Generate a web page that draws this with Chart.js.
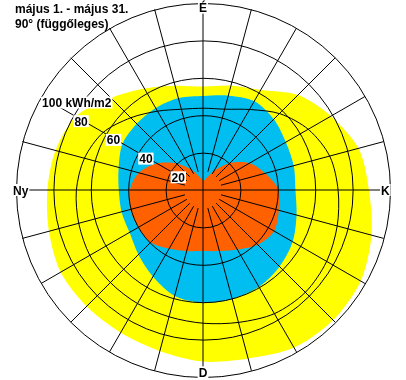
<!DOCTYPE html>
<html>
<head>
<meta charset="utf-8">
<script src="https://cdn.jsdelivr.net/npm/chart.js@4"></script>
<style>
  html, body { margin: 0; padding: 0; background: #fff; }
  #chart { display: block; }
</style>
</head>
<body>
<canvas id="chart" width="406" height="380"></canvas>
<script>
// ---- data (azimuth every 15°, clockwise from north) ----
const directions = ['É', '', '', '', '', '', 'K', '', '', '', '', '', 'D', '', '', '', '', '', 'Ny', '', '', '', '', ''];
const yellowValues  = [55.6, 58, 62, 72, 79, 86, 88.5, 93, 97, 98, 97, 93, 91.5, 89, 88, 88, 88, 85.5, 83.5, 82, 79, 70, 63, 58];
const blueValues    = [50.6, 52.5, 55, 53.5, 51, 50, 49.2, 51.5, 55, 57.5, 59.5, 60, 60, 58.5, 53.5, 49, 45.5, 45.3, 45.3, 47, 50, 50.5, 51, 51.2];
const orangeValues  = [5.3, 7.3, 12.8, 21, 29, 34.5, 40.3, 41.7, 43.5, 41, 36.5, 33.5, 32.4, 33.5, 36, 39.5, 40, 40.5, 39.4, 36, 29, 20.5, 12.8, 7.3];
const contourValues = [44, 45, 50, 58, 65, 70, 72, 74, 76, 77, 76, 73, 71, 70, 70, 70, 70, 69, 68, 66, 62, 55, 49, 45];
const tickValues = [20, 40, 60, 80, 100];
const tickLabels = ['20', '40', '60', '80', '100 kWh/m2'];
const titleLines = ['május 1. - május 31.', '90° (függőleges)'];

const labelFont = 'bold 12px "Liberation Sans", Arial, sans-serif';
const tickSpoke = 20;   // 300° – the spoke the ring values sit on

// half-pixel shift so the N-S / E-W lines land on whole pixels
const crisp = {
  id: 'crisp',
  beforeDraw(chart) { chart.ctx.save(); chart.ctx.translate(0.5, 0.5); },
  afterDraw(chart) { chart.ctx.restore(); }
};

// spokes + labels on top of the fills
const overlay = {
  id: 'overlay',
  afterDraw(chart) {
    const r = chart.scales.r;
    const ctx = chart.ctx;
    ctx.save();
    ctx.strokeStyle = '#000';
    ctx.lineWidth = 1;
    directions.forEach((d, i) => {
      const from = r.getPointPositionForValue(i, i % 6 === 0 ? 0 : 10);
      const to = r.getPointPositionForValue(i, r.max);
      ctx.beginPath();
      ctx.moveTo(from.x, from.y);
      ctx.lineTo(to.x, to.y);
      ctx.stroke();
    });

    ctx.font = labelFont;
    ctx.textAlign = 'left';
    ctx.textBaseline = 'alphabetic';
    tickValues.forEach((v, k) => {
      const p = r.getPointPositionForValue(tickSpoke, v);
      const w = ctx.measureText(tickLabels[k]).width;
      ctx.fillStyle = '#fff';
      ctx.fillRect(p.x, p.y, w + 2, 12);
      ctx.fillStyle = '#000';
      ctx.fillText(tickLabels[k], p.x + 1, p.y + 10.5);
    });

    ctx.textAlign = 'center';
    directions.forEach((d, i) => {
      if (!d) return;
      const p = r.getPointPositionForValue(i, 97.5);
      const w = ctx.measureText(d).width;
      ctx.fillStyle = '#fff';
      ctx.fillRect(p.x - w / 2 - 1, p.y - 6, w + 2, 12);
      ctx.fillStyle = '#000';
      ctx.fillText(d, p.x, p.y + 4.5);
    });

    ctx.textAlign = 'left';
    titleLines.forEach((t, k) => ctx.fillText(t, 15, 13 + k * 14.5));
    ctx.restore();
  }
};

const area = (data, color) => ({
  data,
  fill: true,
  backgroundColor: color,
  borderWidth: 0,
  pointRadius: 0
});

new Chart(document.getElementById('chart'), {
  type: 'radar',
  data: {
    labels: directions,
    datasets: [
      { data: contourValues, fill: false, borderColor: '#000', borderWidth: 1, pointRadius: 0 },
      area(orangeValues, '#ff6000'),
      area(blueValues, '#00bff0'),
      area(yellowValues, '#ffff00')
    ]
  },
  options: {
    responsive: false,
    animation: false,
    events: [],
    layout: { padding: { top: 3, bottom: 2 } },
    elements: { line: { tension: 0.3 } },
    plugins: { legend: { display: false }, tooltip: { enabled: false } },
    scales: {
      r: {
        min: 0,
        max: 100,
        ticks: { display: false, stepSize: 20 },
        grid: { circular: true, color: '#000', lineWidth: 1, z: 1 },
        angleLines: { display: false },
        pointLabels: { display: false }
      }
    }
  },
  plugins: [crisp, overlay]
});
</script>
</body>
</html>
